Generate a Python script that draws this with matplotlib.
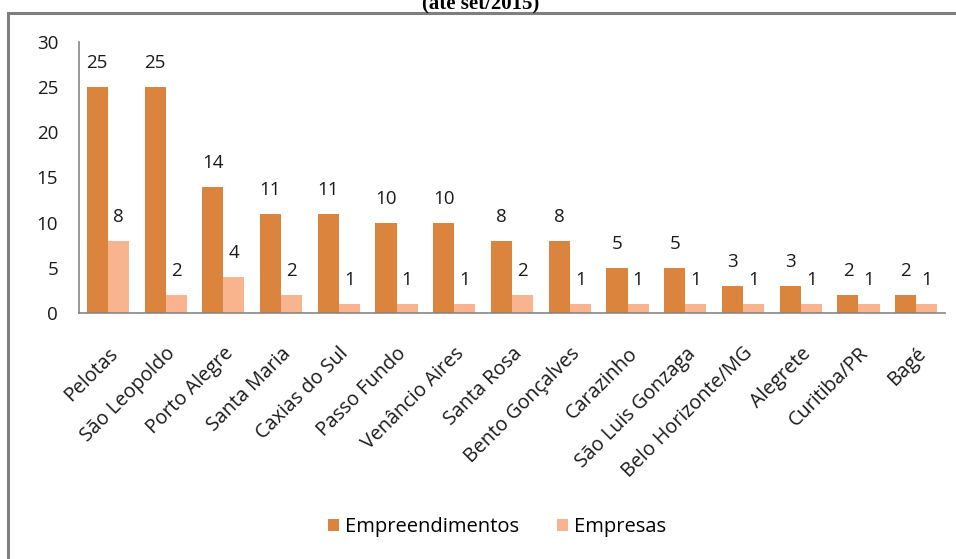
import matplotlib
matplotlib.use('Agg')
from matplotlib import pyplot as plt
from matplotlib.lines import Line2D
import numpy as np

cidades = ['Pelotas', 'São Leopoldo', 'Porto Alegre', 'Santa Maria', 'Caxias do Sul',
           'Passo Fundo', 'Venâncio Aires', 'Santa Rosa', 'Bento Gonçalves', 'Carazinho',
           'São Luis Gonzaga', 'Belo Horizonte/MG', 'Alegrete', 'Curitiba/PR', 'Bagé']
empreendimentos = [25, 25, 14, 11, 11, 10, 10, 8, 8, 5, 5, 3, 3, 2, 2]
empresas = [8, 2, 4, 2, 1, 1, 1, 2, 1, 1, 1, 1, 1, 1, 1]
y_ticks = [0, 5, 10, 15, 20, 25, 30]

plt.rcParams['font.family'] = ['Open Sans', 'DejaVu Sans']
fs = 13.5

fig = plt.figure(figsize=(9.56, 5.59), dpi=100)
ax = fig.add_axes([0.0826, 0.44, 0.906, 0.485])

x = np.arange(len(cidades))
w = 0.365
b1 = ax.bar(x - w / 2, empreendimentos, w, color='#DA843E', label='Empreendimentos')
b2 = ax.bar(x + w / 2, empresas, w, color='#F8B48E', label='Empresas')

for bars, vals in ((b1, empreendimentos), (b2, empresas)):
    for r, v in zip(bars, vals):
        ax.annotate(str(v), (r.get_x() + r.get_width() / 2, v), xytext=(0, 17),
                    textcoords='offset points', ha='center', va='center',
                    fontsize=fs, color='#1a1a1a')

ax.set_xlim(-0.5, len(cidades) - 0.5)
ax.set_ylim(0, 30)
ax.set_yticks(y_ticks)
ax.set_xticks(x)
ax.set_xticklabels(cidades, rotation=45, ha='right', rotation_mode='anchor', fontsize=14.2)
ax.tick_params(axis='y', length=0, labelsize=fs, colors='#1a1a1a', pad=15)
ax.tick_params(axis='x', length=0, colors='#1a1a1a', pad=22)
for s in ('top', 'right'):
    ax.spines[s].set_visible(False)
for s in ('left', 'bottom'):
    ax.spines[s].set_color('#868686')
    ax.spines[s].set_linewidth(1.2)

fig.legend(loc='center', bbox_to_anchor=(0.52, 0.057), ncol=2, frameon=False,
           fontsize=14.5, handlelength=0.55, handleheight=0.55, columnspacing=1.9,
           handletextpad=0.3)

# moldura
fig.add_artist(Line2D([8 / 956, 1], [1 - 13 / 559, 1 - 13 / 559], transform=fig.transFigure,
                      color='#7f7f7f', lw=2.2))
fig.add_artist(Line2D([8 / 956, 8 / 956], [0, 1 - 13 / 559], transform=fig.transFigure,
                      color='#7f7f7f', lw=2.2))

fig.text(0.503, 0.993, '(até set/2015)', ha='center', va='center', fontsize=15,
         fontweight='bold', family='Liberation Serif')

fig.savefig('out.png', dpi=100)
